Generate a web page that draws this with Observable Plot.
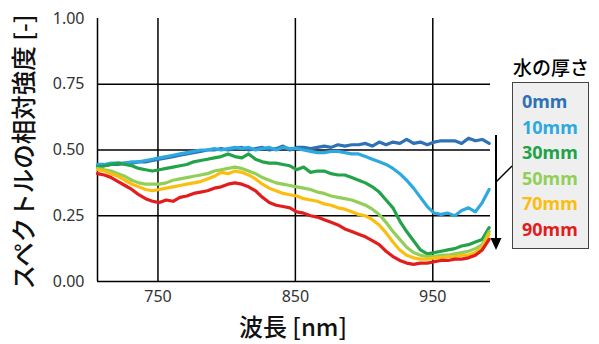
<!DOCTYPE html>
<html><head><meta charset="utf-8">
<script src="https://cdn.jsdelivr.net/npm/d3@7"></script>
<script src="https://cdn.jsdelivr.net/npm/@observablehq/plot@0.6"></script>
<style>
body{margin:0;background:#fff;}
#wrap{position:relative;width:599px;height:344px;overflow:hidden;font-family:"Noto Sans CJK JP","Noto Sans",sans-serif;color:#111;}
#chart{position:absolute;left:0;top:0;}
#chart svg{display:block;}
.ytitle{position:absolute;left:23px;top:152px;transform:translate(-50%,-50%) rotate(-90deg);font-size:24.5px;font-weight:500;white-space:nowrap;line-height:1;}
.xtitle{position:absolute;left:293px;top:326px;transform:translate(-50%,-50%);font-size:24px;font-weight:500;white-space:nowrap;line-height:1;}
.ltitle{position:absolute;left:551px;top:66px;transform:translate(-50%,-50%);font-size:19px;font-weight:500;white-space:nowrap;color:#000;line-height:1;}
.legend{position:absolute;left:512px;top:82px;width:77px;height:167px;background:#efefef;border:1.5px solid #444;box-sizing:border-box;padding-top:6px;}
.legend div{padding-left:9px;font:bold 18px "Noto Sans",sans-serif;line-height:25.5px;}
#ann{position:absolute;left:0;top:0;}
</style>
</head><body>
<div id="wrap">
  <div id="chart"></div>
  <svg id="ann" width="599" height="344"></svg>
  <div class="ytitle">スペクトルの相対強度 [-]</div>
  <div class="xtitle">波長 [nm]</div>
  <div class="ltitle">水の厚さ</div>
  <div class="legend" id="legend"></div>
</div>
<script>
// wavelengths (nm)
const wavelengths = d3.range(58).map(i => 706 + 5 * i);
const thickness = ["0mm", "10mm", "30mm", "50mm", "70mm", "90mm"];
const s0 = [0.44,0.44,0.445,0.445,0.45,0.45,0.455,0.455,0.46,0.465,0.47,0.475,0.48,0.485,0.49,0.495,0.5,0.5,0.505,0.5,0.505,0.51,0.5,0.505,0.51,0.5,0.505,0.515,0.5,0.51,0.51,0.505,0.51,0.515,0.51,0.52,0.515,0.52,0.52,0.525,0.515,0.53,0.52,0.53,0.525,0.54,0.525,0.53,0.52,0.53,0.535,0.535,0.535,0.525,0.545,0.535,0.54,0.525];
const s10 = [0.445,0.445,0.45,0.45,0.45,0.455,0.455,0.46,0.465,0.47,0.475,0.48,0.485,0.49,0.495,0.5,0.5,0.505,0.5,0.505,0.51,0.505,0.51,0.5,0.505,0.51,0.5,0.51,0.505,0.505,0.5,0.495,0.49,0.49,0.495,0.495,0.49,0.485,0.485,0.475,0.465,0.455,0.445,0.43,0.41,0.385,0.355,0.32,0.285,0.26,0.255,0.26,0.25,0.27,0.28,0.265,0.3,0.35];
const s30 = [0.435,0.44,0.445,0.45,0.445,0.44,0.43,0.425,0.42,0.425,0.43,0.435,0.44,0.445,0.455,0.46,0.465,0.47,0.475,0.485,0.475,0.47,0.485,0.465,0.455,0.45,0.45,0.445,0.44,0.425,0.435,0.415,0.42,0.42,0.41,0.405,0.405,0.395,0.385,0.375,0.36,0.34,0.31,0.28,0.23,0.19,0.155,0.12,0.105,0.11,0.115,0.12,0.125,0.135,0.14,0.15,0.16,0.205];
const s50 = [0.43,0.425,0.42,0.41,0.4,0.385,0.375,0.37,0.37,0.37,0.375,0.385,0.39,0.395,0.4,0.405,0.41,0.42,0.425,0.43,0.435,0.43,0.42,0.41,0.395,0.385,0.375,0.37,0.365,0.36,0.355,0.35,0.34,0.335,0.325,0.32,0.315,0.31,0.3,0.29,0.275,0.255,0.225,0.19,0.16,0.13,0.11,0.1,0.095,0.095,0.1,0.1,0.105,0.11,0.115,0.125,0.14,0.19];
const s70 = [0.425,0.42,0.41,0.4,0.385,0.37,0.36,0.35,0.345,0.35,0.355,0.36,0.365,0.37,0.375,0.38,0.39,0.4,0.415,0.41,0.42,0.415,0.405,0.39,0.37,0.355,0.345,0.335,0.33,0.325,0.315,0.31,0.305,0.295,0.29,0.28,0.275,0.265,0.255,0.25,0.235,0.215,0.185,0.15,0.12,0.1,0.09,0.085,0.085,0.09,0.09,0.095,0.095,0.1,0.1,0.11,0.13,0.18];
const s90 = [0.41,0.405,0.395,0.38,0.365,0.35,0.33,0.315,0.305,0.3,0.31,0.305,0.32,0.325,0.335,0.34,0.345,0.355,0.36,0.37,0.375,0.37,0.36,0.345,0.32,0.3,0.29,0.285,0.28,0.265,0.26,0.25,0.245,0.235,0.225,0.215,0.2,0.19,0.18,0.17,0.155,0.14,0.115,0.095,0.08,0.07,0.065,0.07,0.07,0.075,0.08,0.08,0.085,0.085,0.09,0.1,0.12,0.16];
const xTicks = [750, 850, 950];
const yTicks = [0, 0.25, 0.5, 0.75, 1];
const yGrid = [0.25, 0.5, 0.75];
const xDomain = [706, 992];

const colors = ["#2e72b6", "#2ea9e0", "#22a249", "#92cf58", "#fbbe10", "#e21d1d"];
const seriesValues = [s0, s10, s30, s50, s70, s90];
const data = thickness.flatMap((t, k) => wavelengths.map((w, i) => ({w, v: seriesValues[k][i], series: t})));

const chart = Plot.plot({
  width: 599, height: 344,
  marginLeft: 97, marginRight: 109, marginTop: 18, marginBottom: 63,
  x: {domain: xDomain},
  y: {domain: [0, 1]},
  color: {domain: thickness, range: colors},
  style: {fontFamily: "'Noto Sans', sans-serif", fontSize: "16px", color: "#333", background: "transparent"},
  marks: [
    Plot.gridX(xTicks, {stroke: "#000", strokeOpacity: 1, strokeWidth: 1.5}),
    Plot.gridY(yGrid, {stroke: "#000", strokeOpacity: 1, strokeWidth: 1.5}),
    Plot.ruleX([xDomain[0]], {stroke: "#000", strokeWidth: 1.5}),
    Plot.ruleY([0], {stroke: "#000", strokeWidth: 1.5}),
    Plot.line(data, {x: "w", y: "v", z: "series", stroke: "series", strokeWidth: 3.2, strokeLinejoin: "round", strokeLinecap: "round"}),
    Plot.axisX(xTicks, {tickSize: 0, tickPadding: 9, fontSize: 16, label: null}),
    Plot.axisY(yTicks, {tickSize: 0, tickPadding: 13, fontSize: 16, tickFormat: d3.format(".2f"), label: null})
  ]
});
document.getElementById("chart").appendChild(chart);

const legend = document.getElementById("legend");
thickness.forEach((t, k) => {
  const d = document.createElement("div");
  d.textContent = t;
  d.style.color = colors[k];
  legend.appendChild(d);
});

const ann = d3.select("#ann");
ann.append("line").attr("x1", 496).attr("x2", 496).attr("y1", 135).attr("y2", 240).attr("stroke", "#000").attr("stroke-width", 2);
ann.append("path").attr("d", "M490.5,238 L501.5,238 L496,250 Z").attr("fill", "#000");
ann.append("line").attr("x1", 496).attr("y1", 182).attr("x2", 512).attr("y2", 166).attr("stroke", "#000").attr("stroke-width", 1.5);
</script>
</body></html>
